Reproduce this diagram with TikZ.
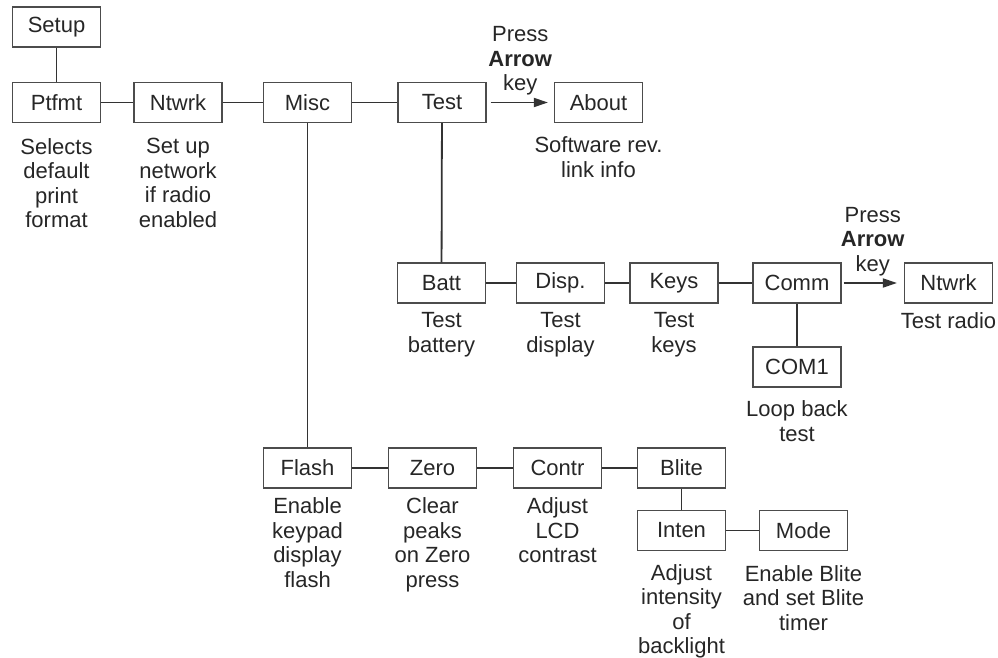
\documentclass[tikz,border=0pt]{standalone}
\usepackage{fontspec}
\setmainfont{Liberation Sans}
\usetikzlibrary{arrows.meta,positioning}

\begin{document}
\begin{tikzpicture}[x=1pt, y=-1pt,
        menu/.style={draw=black!70, line width=1.2pt, minimum width=88pt, minimum height=40pt, inner sep=0pt, font=\fontsize{22}{24.5}\selectfont, text=black!85},
        note/.style={align=center, inner sep=0pt, font=\fontsize{22}{24.5}\selectfont, text=black!85},
        link/.style={line width=1.8pt, draw=black!80},
        >={Triangle[length=14pt,width=9pt]}]
        \useasboundingbox (0,0) rectangle (998,658);
        % top row
        \node[menu] (setup) at (56.5,27) {Setup};
        \node[menu] (ptfmt) at (56.5,102.5) {Ptfmt};
        \node[menu] (ntwrk) at (178,102.5) {Ntwrk};
        \node[menu] (misc) at (307.5,102.5) {Misc};
        \node[menu] (test) at (442,102.5) {Test};
        \node[menu] (about) at (598.5,102.5) {About};
        % test row
        \node[menu] (batt) at (441.5,283) {Batt};
        \node[menu] (disp) at (560.5,283) {Disp.};
        \node[menu] (keys) at (674,283) {Keys};
        \node[menu] (comm) at (797,283) {Comm};
        \node[menu] (radio) at (948.5,283) {Ntwrk};
        \node[menu] (com1) at (797,367) {COM1};
        % misc row
        \node[menu] (flash) at (307.5,468) {Flash};
        \node[menu] (zero) at (432.5,468) {Zero};
        \node[menu] (contr) at (557.5,468) {Contr};
        \node[menu] (blite) at (681.5,468) {Blite};
        \node[menu] (inten) at (681.5,530.5) {Inten};
        \node[menu] (mode) at (803.5,530.5) {Mode};

        \node[note, below=15pt of ptfmt] (ptfmt-note) {Selects\\default\\print\\format};
        \node[note, below=15pt of ntwrk] (ntwrk-note) {Set up\\network\\if radio\\enabled};
        \node[note, below=13.5pt of about] (about-note) {Software rev.\\link info};
        \node[note, below=9pt of batt] (batt-note) {Test\\battery};
        \node[note, below=9pt of disp] (disp-note) {Test\\display};
        \node[note, below=9pt of keys] (keys-note) {Test\\keys};
        \node[note, below=9pt of radio] (radio-note) {Test radio};
        \node[note, below=13pt of com1] (com1-note) {Loop back\\test};
        \node[note, below=9pt of flash] (flash-note) {Enable\\keypad\\display\\flash};
        \node[note, below=9pt of zero] (zero-note) {Clear\\peaks\\on Zero\\press};
        \node[note, below=9pt of contr] (contr-note) {Adjust\\LCD\\contrast};
        \node[note, below=13pt of inten] (inten-note) {Adjust\\intensity\\of\\backlight};
        \node[note, below=14pt of mode] (mode-note) {Enable Blite\\and set Blite\\timer};

        \foreach \a/\b in {setup/ptfmt, ptfmt/ntwrk, ntwrk/misc, misc/test, misc/flash, test/batt,
                batt/disp, disp/keys, keys/comm, comm/com1, flash/zero, zero/contr, contr/blite,
                blite/inten, inten/mode}
            \draw[link] (\a) -- (\b);

        \draw[->, link, shorten <=4pt, shorten >=6pt] (test) -- (about) coordinate[pos=0.5] (press-a);
        \node[note, above=7pt of press-a] (press-a-note) {Press\\\textbf{Arrow}\\key};
        \draw[->, link, shorten <=2pt, shorten >=7pt] (comm) -- (radio) coordinate[pos=0.5] (press-b);
        \node[note, above=7pt of press-b] (press-b-note) {Press\\\textbf{Arrow}\\key};
    \end{tikzpicture}
\end{document}
